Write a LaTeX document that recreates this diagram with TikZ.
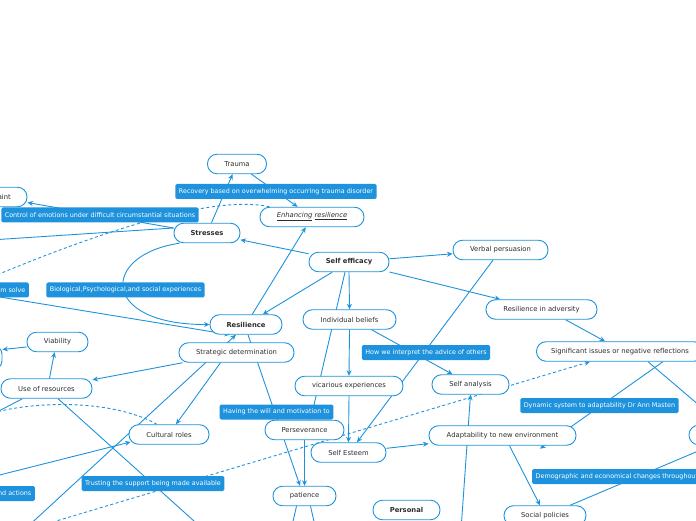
\documentclass[tikz,border=0pt]{standalone}
\usepackage{fontspec}
\setmainfont{DejaVu Sans}
\usetikzlibrary{arrows.meta, calc}
\definecolor{mapblue}{RGB}{30,146,220}
\definecolor{inkgrey}{RGB}{45,45,45}
\pgfdeclarelayer{edges}
\pgfsetlayers{edges,main}
\tikzset{
    topic/.style={draw=mapblue, fill=white, line width=0.9pt, rounded corners=9.5pt, minimum height=19.5pt, inner sep=2pt, text=inkgrey, font=\fontsize{6.8}{8}\selectfont},
    hub/.style={topic, font=\fontsize{6.8}{8}\selectfont\bfseries},
    tag/.style={fill=mapblue, text=white, rounded corners=1.5pt, minimum height=15pt, inner xsep=3.5pt, inner ysep=2pt, font=\fontsize{6.4}{8}\selectfont},
    link/.style={draw=mapblue, line width=0.9pt, -{Stealth[length=5.5pt,width=5pt]}},
    rel/.style={link, dash pattern=on 3pt off 2.5pt}
}

\begin{document}
\begin{tikzpicture}[x=1pt, y=1pt]
    \useasboundingbox (0,0) rectangle (696,520);

    % topics
    \node (trauma) [topic, minimum width=59pt] at (237,356) {Trauma};
    \node (restraint) [topic, minimum width=63pt] at (-4.5,323) {Restraint};
    \node (enhance) [topic, minimum width=104pt] at (312,303) {\textit{\underline{Enhancing} \underline{resilience}}};
    \node (stresses) [hub, minimum width=66pt] at (207,287) {Stresses};
    \node (selfeff) [hub, minimum width=80pt] at (349,258) {Self efficacy};
    \node (verbal) [topic, minimum width=95pt] at (500.5,270) {Verbal persuasion};
    \node (resil) [hub, minimum width=72pt] at (246,195.5) {Resilience};
    \node (beliefs) [topic, minimum width=93pt] at (349.5,200.5) {Individual beliefs};
    \node (adversity) [topic, minimum width=111pt] at (541.5,210.5) {Resilience in adversity};
    \node (viability) [topic, minimum width=61pt] at (57.5,178) {Viability};
    \node (strategic) [topic, minimum width=115pt] at (236.5,167.5) {Strategic determination};
    \node (issues) [topic, minimum width=167pt] at (620,168.5) {Significant issues or negative reflections};
    \node (resources) [topic, minimum width=91pt] at (46.5,131.5) {Use of resources};
    \node (leftnode) [topic, minimum width=64pt, minimum height=25pt] at (-30,162.5) {};
    \node (vicarious) [topic, minimum width=108pt] at (349,134) {vicarious experiences};
    \node (selfanalysis) [topic, minimum width=77pt] at (470.5,135.5) {Self analysis};
    \node (cultural) [topic, minimum width=80pt] at (169,85.5) {Cultural roles};
    \node (persev) [topic, minimum width=79pt] at (304.5,90) {Perseverance};
    \node (adapt) [topic, minimum width=147pt] at (502.5,84.5) {Adaptability to new environment};
    \node (rightnode) [topic, minimum width=102pt] at (740,85) {};
    \node (esteem) [topic, minimum width=75pt] at (348.5,67.5) {Self Esteem};
    \node (patience) [topic, minimum width=63pt] at (304.5,24) {patience};
    \node (personal) [hub, minimum width=67pt] at (406.5,10) {Personal};
    \node (policies) [topic, minimum width=82pt] at (545,4.5) {Social policies};

    % connector labels
    \node (lrecovery) [tag] at (276,328.5) {Recovery based on overwhelming occurring trauma disorder};
    \node (lcontrol) [tag] at (100,305) {Control of emotions under difficult circumstantial situations};
    \node (lproblem) [tag, anchor=east] at (29,230) {Problem solve};
    \node (lbio) [tag] at (125.5,230) {Biological,Psychological,and social experiences};
    \node (linterpret) [tag] at (426,167.5) {How we interpret the advice of others};
    \node (ldynamic) [tag] at (599.5,114.5) {Dynamic system to adaptability Dr Ann Masten};
    \node (lwill) [tag] at (276.5,108) {Having the will and motivation to};
    \node (ltrust) [tag] at (153,36.5) {Trusting the support being made available};
    \node (ldemo) [tag, anchor=west] at (532,43.5) {Demographic and economical changes throughout};
    \node (lactions) [tag, anchor=east] at (35,26.5) {Thoughts and actions};

    % ends that lie outside the page
    \coordinate (offA) at (-40,278);
    \coordinate (offB) at (-20,238);
    \coordinate (offC) at (-40,229.5);
    \coordinate (offD) at (24,-10);
    \coordinate (offE) at (461,-10);
    \coordinate (offF) at (-30,94);
    \coordinate (offG) at (-10,106);
    \coordinate (offH) at (-40,35);
    \coordinate (offI) at (204,-10);
    \coordinate (offJ) at (26,-10);
    \coordinate (offK) at (291,-10);
    \coordinate (offL) at (316,-10);

    \begin{pgfonlayer}{edges}
    \draw [link] (stresses) -- (trauma);
    \draw [link] (trauma) -- (enhance);
    \draw [link] (resil) -- (enhance);
    \draw [link] (selfeff) -- (stresses);
    \draw [link] ([yshift=5pt]stresses.west) -- (restraint);
    \draw [link] ([yshift=5pt]stresses.west) -- (offA);
    \draw [rel] ([xshift=10pt]enhance.north west) .. controls (235,321) and (160,314) .. (offB);
    \draw [link] ([xshift=6pt]stresses.south west) .. controls (100,265) and (100,195) .. (resil.west);
    \draw [link] (offC) -- ([xshift=-16pt]resil.south);
    \draw [link] (offD) -- ([xshift=-10pt]resil.south);
    \draw [link] (selfeff) -- (resil);
    \draw [link] (selfeff.south) -- (beliefs.north);
    \draw [link] ([xshift=-4pt]selfeff.south) -- ([xshift=6pt]persev.north);
    \draw [link] (selfeff) -- (verbal);
    \draw [link] (selfeff) -- (adversity);
    \draw [link] ([xshift=24pt]adversity.south) -- ([xshift=-15pt]issues.north);
    \draw [link] ([xshift=-7.5pt]verbal.south) -- ([xshift=8.5pt]esteem.north);
    \draw [link] (beliefs.south) -- (vicarious.north);
    \draw [link] ([xshift=22pt]beliefs.south) -- ([xshift=-18pt]selfanalysis.north);
    \draw [link] (vicarious.south) -- (esteem.north);
    \draw [link] (esteem) -- (adapt);
    \draw [link] (offE) -- (selfanalysis.south);
    \draw [link] ([xshift=7pt]adapt.south) -- ([xshift=-5pt]policies.north);
    \draw [link] ([xshift=43pt]issues.south) -- ([xshift=37.5pt,yshift=-3pt]adapt.south);
    \draw [link] ([xshift=28pt]issues.south) -- ([xshift=-18pt]rightnode.north);
    \draw [link] ([xshift=25pt]policies.north) -- ([xshift=-28pt]rightnode.south);
    \draw [link] (strategic) -- (resources);
    \draw [link] ([xshift=-16pt]strategic.south) -- ([xshift=7pt]cultural.north);
    \draw [link] ([xshift=3pt]resources.north) -- ([xshift=-3pt]viability.south);
    \draw [link] ([yshift=-5pt]viability.west) -- ([yshift=8pt]leftnode.east);
    \draw [link] ([xshift=-24pt]resources.south) -- (offF);
    \draw [rel] ([xshift=-12pt]cultural.north) .. controls (110,122) and (30,118) .. (offG);
    \draw [link] (offH) -- ([xshift=2pt,yshift=-7.5pt]cultural.west);
    \draw [link] ([xshift=11.5pt]resources.south) -- (offI);
    \draw [rel] (offJ) -- ([xshift=-30pt]issues.south);
    \draw [link] ([xshift=2pt]resil.south) -- ([xshift=-4.5pt]patience.north);
    \draw [link] (persev.south) -- (patience.north);
    \draw [link] ([xshift=-8pt]patience.south) -- (offK);
    \draw [link] ([xshift=6pt]patience.south) -- (offL);
    \end{pgfonlayer}
\end{tikzpicture}
\end{document}
